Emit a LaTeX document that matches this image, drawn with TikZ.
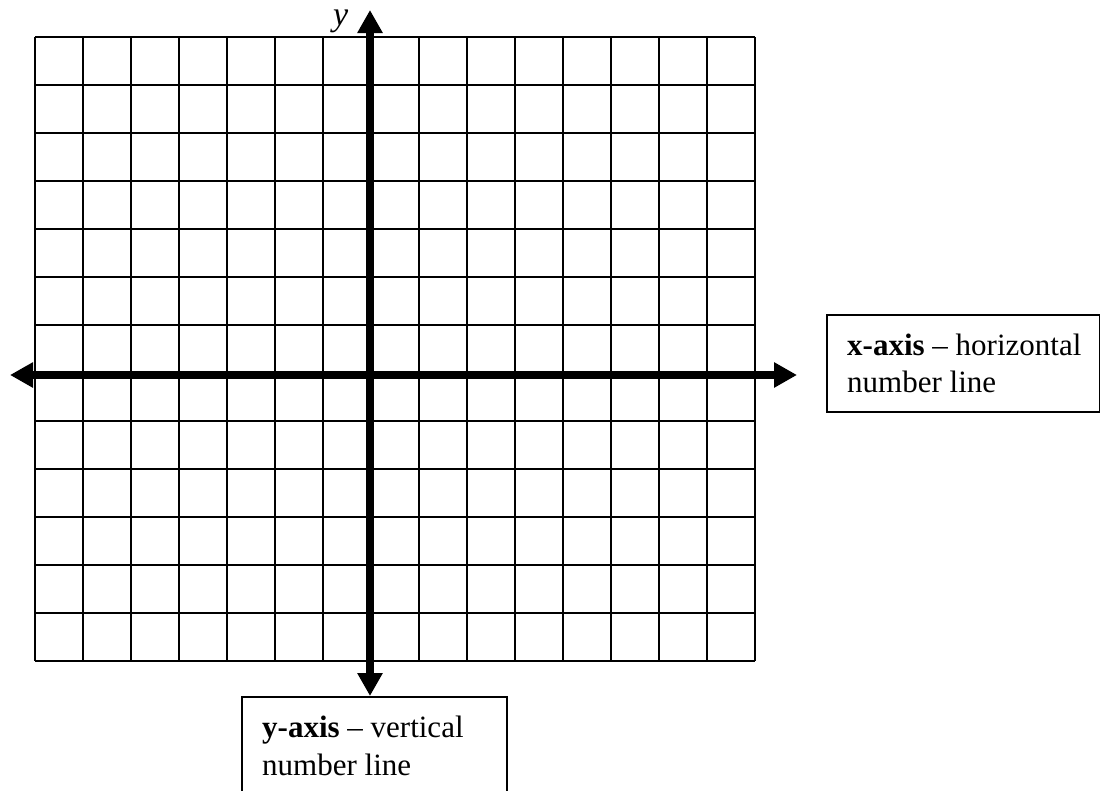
\documentclass[tikz,border=0pt]{standalone}
\usepackage{fontspec}
\setmainfont{Liberation Serif}
\usetikzlibrary{arrows.meta}
\begin{document}
\begin{tikzpicture}[x=1pt,y=-1pt,
  gridline/.style={line width=1.8pt,black},
  axisline/.style={line width=7.5pt,black,{Triangle[width=24pt,length=23pt]}-{Triangle[width=24pt,length=23pt]}},
  labelbox/.style={draw,line width=1.6pt,anchor=north west,inner sep=0pt},
  boxtext/.style={anchor=base west,inner sep=0pt,font=\fontsize{31}{37}\selectfont},
  axlabel/.style={anchor=base west,inner sep=0pt,font=\fontsize{34}{40}\selectfont\itshape}]
\useasboundingbox (0,0) rectangle (1100,790);
% grid
\foreach \i in {0,...,15} \draw[gridline] (35+48*\i,37) -- (35+48*\i,661);
\foreach \j in {0,...,13} \draw[gridline] (35,37+48*\j) -- (755,37+48*\j);
% boxes
\node[labelbox,minimum width=273pt,minimum height=97pt] (xbox) at (826,314) {};
\node[labelbox,minimum width=265pt,minimum height=120pt] (ybox) at (241,696) {};
\node[boxtext] (xt1) at (847,355) {\textbf{x-axis} – horizontal};
\node[boxtext] (xt2) at (847,392) {number line};
\node[boxtext] (yt1) at (262,737) {\textbf{y-axis} – vertical};
\node[boxtext] (yt2) at (262,775) {number line};
% axes
\coordinate (ytip) at (370,10);
\coordinate (xleft) at (10,375);
\coordinate (xright) at (797,375);
\draw[axisline] (ytip) -- (ytip |- ybox.north);
\draw[axisline,line width=8pt] (xleft) -- (xright);
\node[axlabel] (ylab) at (333,25) {y};
\end{tikzpicture}
\end{document}
